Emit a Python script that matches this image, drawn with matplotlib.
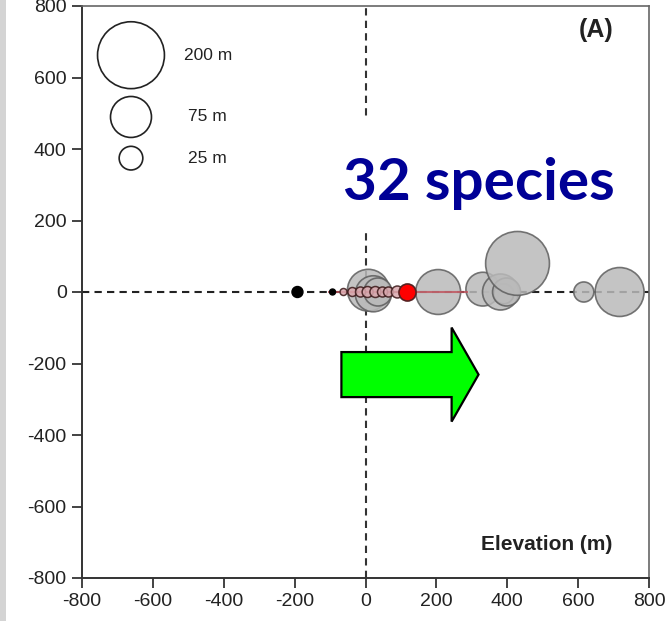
import numpy as np
import matplotlib
import matplotlib.pyplot as plt
from matplotlib.patches import FancyArrow, Rectangle

matplotlib.use('Agg')
plt.rcParams['font.family'] = ['Liberation Sans', 'DejaVu Sans']
plt.rcParams['axes.unicode_minus'] = False

# 物种分布区的海拔/纬度位移 (m), 气泡大小 = 分布范围 (m)
grey_elev = [8, 22, 35, 205, 331, 381, 390, 398, 429, 616, 717]
grey_lat = [5, -5, 0, 0, 8, 0, -5, 0, 80, 0, 0]
grey_size = [78, 58, 35, 90, 51, 58, 18, 35, 182, 18, 107]

pink_elev = [-62, -37, -14, 6, 28, 48, 65, 90]
pink_lat = [0, 0, 0, 0, 0, 0, 0, 0]
pink_size = [2.2, 3.6, 4.5, 5.4, 5.4, 4.5, 4.5, 6.4]

black_elev = [-192, -93]
black_lat = [0, 0]
black_size = [5.4, 1.6]

mean_elev = 118
mean_lat = 0
mean_size = 13
ci_low, ci_high = -107, 288

legend_vals = [200, 75, 25]
legend_labels = ['200 m', '75 m', '25 m']
ticks = np.arange(-800, 801, 200)

k = 11.6  # size scale (points^2 per m)

fig = plt.figure(figsize=(6.7, 6.21), dpi=100)
ax = fig.add_axes([82 / 670, 43 / 621, 567 / 670, 572 / 621])

ls = (0, (3.5, 2.5))
ax.axhline(0, color='#222222', lw=1.5, linestyle=ls, zorder=1)
ax.axvline(0, color='#333333', lw=1.5, linestyle=ls, zorder=1)

ax.scatter(grey_elev, grey_lat, s=[k * v for v in grey_size], facecolor='#bababa',
           edgecolor='#5e5e5e', linewidth=1.2, alpha=0.85, zorder=3)
ax.errorbar(mean_elev, mean_lat, xerr=[[mean_elev - ci_low], [ci_high - mean_elev]],
            fmt='none', ecolor='#c0505a', elinewidth=1.5, capsize=0, alpha=0.8, zorder=4)
ax.scatter(pink_elev, pink_lat, s=[k * v for v in pink_size], facecolor='#d9a8ae',
           edgecolor='#3a1818', linewidth=1.1, alpha=0.85, zorder=5)
ax.scatter(black_elev, black_lat, s=[k * v for v in black_size], color='black', zorder=5)
ax.scatter(mean_elev, mean_lat, s=k * mean_size, facecolor='#ff0000',
           edgecolor='#552222', linewidth=1.2, zorder=6)

# 图例气泡
leg_y = [0.914, 0.806, 0.734]
ax.scatter([0.0864] * 3, leg_y, s=[k * v for v in legend_vals], facecolor='none',
           edgecolor='#222222', linewidth=1.2, transform=ax.transAxes, clip_on=False, zorder=5)
for yy, lab, xx in zip(leg_y, legend_labels, [0.18, 0.187, 0.187]):
    ax.text(xx, yy, lab, transform=ax.transAxes, fontsize=12.5, color='#222222',
            ha='left', va='center')

ax.text(0.937, 0.958, '(A)', transform=ax.transAxes, fontsize=18, fontweight='bold',
        ha='right', va='center', color='#222222')
ax.text(0.935, 0.058, 'Elevation (m)', transform=ax.transAxes, fontsize=15,
        fontweight='bold', ha='right', va='center', color='#222222')

# 文字背景白框和 "32 species"
ax.add_patch(Rectangle((0.455, 0.612), 0.5, 0.188, transform=ax.transAxes,
                       facecolor='white', edgecolor='none', zorder=7))
ax.text(0.7, 0.69, '32 species', transform=ax.transAxes, fontsize=42,
        fontweight='bold', family='Lato', color='#000096', ha='center', va='center', zorder=8)

ax.add_patch(FancyArrow(-68, -231, 387, 0, width=126, head_width=263, head_length=76,
                        length_includes_head=True, facecolor='#00ff00', edgecolor='black',
                        linewidth=1.6, zorder=9))

ax.set_xlim(-800, 800)
ax.set_ylim(-800, 800)
ax.set_xticks(ticks)
ax.set_yticks(ticks)
ax.tick_params(direction='out', length=7, width=1.2, labelsize=14, colors='#222222', pad=4)
for side in ['left', 'bottom']:
    ax.spines[side].set_linewidth(1.4)
    ax.spines[side].set_color('#333333')
for side in ['top', 'right']:
    ax.spines[side].set_linewidth(1.2)
    ax.spines[side].set_color('#666666')

fig.patches.append(Rectangle((0, 0), 6 / 670, 1, transform=fig.transFigure,
                             facecolor='#d4d4d4', edgecolor='none'))

plt.savefig('out.png', dpi=100)
